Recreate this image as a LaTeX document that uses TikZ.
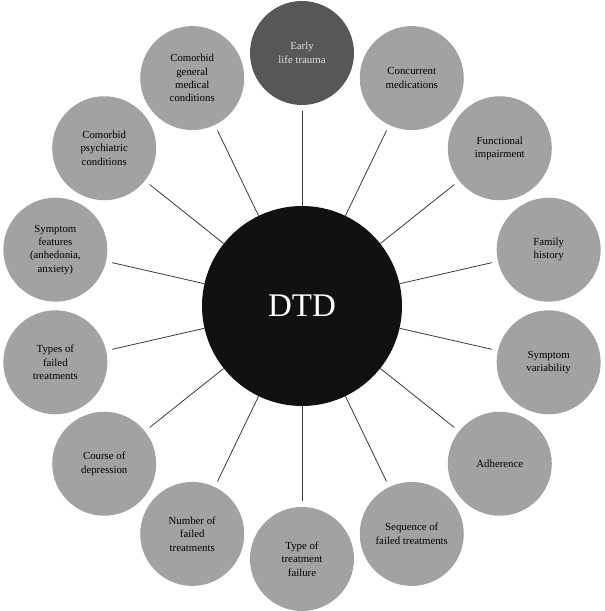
\documentclass[tikz,border=0pt]{standalone}
\usepackage{fontspec}
\setmainfont{Liberation Serif}
\definecolor{outergray}{HTML}{A2A2A2}
\definecolor{topgray}{HTML}{575757}
\definecolor{coreblack}{HTML}{111111}
\definecolor{linkgray}{HTML}{3A3A3A}
\begin{document}
\begin{tikzpicture}[x=1pt,y=1pt,
  outer/.style={circle,fill=outergray,minimum size=104pt,inner sep=0pt,align=center,
    font=\fontsize{10.8}{13.4}\selectfont,text=black},
  topone/.style={outer,fill=topgray,text=white!88!black},
  core/.style={circle,fill=coreblack,minimum size=200pt,inner sep=0pt,text=white,
    font=\fontsize{33}{36}\selectfont},
  link/.style={draw=linkgray,line width=0.8pt,shorten >=6pt}]
\useasboundingbox (0,0) rectangle (605,611);
\node[core] (c) at (302,305) {DTD};
\def\R{253}
\node[topone] (n0) at ({302+\R*cos(90)},{305+\R*sin(90)}) {Early\\life trauma};
\node[outer] (n1) at ({302+\R*cos(64.2857)},{305+\R*sin(64.2857)}) {Concurrent\\medications};
\node[outer] (n2) at ({302+\R*cos(38.5714)},{305+\R*sin(38.5714)}) {Functional\\impairment};
\node[outer] (n3) at ({302+\R*cos(12.8571)},{305+\R*sin(12.8571)}) {Family\\history};
\node[outer] (n4) at ({302+\R*cos(-12.8571)},{305+\R*sin(-12.8571)}) {Symptom\\variability};
\node[outer] (n5) at ({302+\R*cos(-38.5714)},{305+\R*sin(-38.5714)}) {Adherence};
\node[outer] (n6) at ({302+\R*cos(-64.2857)},{305+\R*sin(-64.2857)}) {Sequence of\\failed treatments};
\node[outer] (n7) at ({302+\R*cos(-90)},{305+\R*sin(-90)}) {Type of\\treatment\\failure};
\node[outer] (n8) at ({302+\R*cos(-115.7143)},{305+\R*sin(-115.7143)}) {Number of\\failed\\treatments};
\node[outer] (n9) at ({302+\R*cos(-141.4286)},{305+\R*sin(-141.4286)}) {Course of\\depression};
\node[outer] (n10) at ({302+\R*cos(-167.1429)},{305+\R*sin(-167.1429)}) {Types of\\failed\\treatments};
\node[outer] (n11) at ({302+\R*cos(167.1429)},{305+\R*sin(167.1429)}) {Symptom\\features\\(anhedonia,\\anxiety)};
\node[outer] (n12) at ({302+\R*cos(141.4286)},{305+\R*sin(141.4286)}) {Comorbid\\psychiatric\\conditions};
\node[outer] (n13) at ({302+\R*cos(115.7143)},{305+\R*sin(115.7143)}) {Comorbid\\general\\medical\\conditions};
\foreach \k in {0,...,13}{
  \draw[link] (c) -- (n\k);
}
\end{tikzpicture}
\end{document}
